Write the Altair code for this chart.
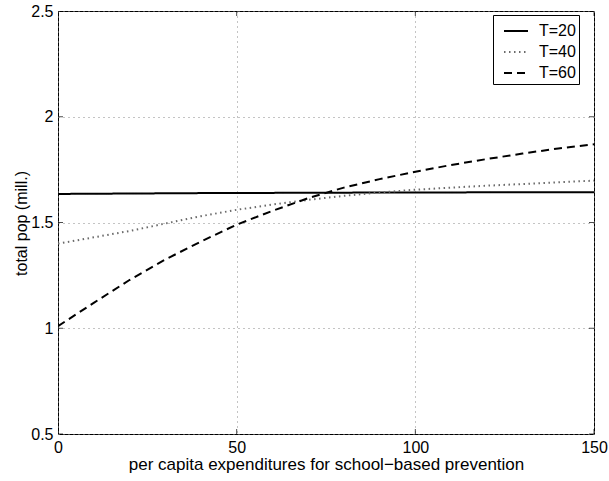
import altair as alt
import pandas as pd

# per capita expenditures (x) and total population in millions for each horizon T
spend = [0, 10, 20, 30, 40, 50, 60, 70, 80, 90, 100, 110, 120, 130, 140, 150]
pop_t20 = [1.635, 1.636, 1.637, 1.638, 1.639, 1.640, 1.640, 1.641, 1.641, 1.642,
           1.642, 1.642, 1.643, 1.643, 1.643, 1.643]
pop_t40 = [1.400, 1.430, 1.460, 1.495, 1.530, 1.560, 1.585, 1.607, 1.626, 1.642,
           1.655, 1.665, 1.674, 1.682, 1.690, 1.698]
pop_t60 = [1.010, 1.120, 1.228, 1.325, 1.410, 1.490, 1.555, 1.615, 1.665, 1.705,
           1.740, 1.772, 1.800, 1.826, 1.850, 1.870]
series = ["T=20", "T=40", "T=60"]

x_ticks = [0, 50, 100, 150]
y_ticks = [0.5, 1.0, 1.5, 2.0, 2.5]

rows = []
for name, vals in zip(series, [pop_t20, pop_t40, pop_t60]):
    for xv, yv in zip(spend, vals):
        rows.append({"x": xv, "y": yv, "T": name})
df = pd.DataFrame(rows)

FONT = "Liberation Sans"
FS = 16

x_scale = alt.Scale(domain=[0, 150], nice=False, zero=False)
y_scale = alt.Scale(domain=[0.5, 2.5], nice=False, zero=False)

legend = alt.Legend(title=None, labelExpr="datum.label + '    '")

lines = alt.Chart(df).mark_line(clip=True).encode(
    x=alt.X("x:Q", scale=x_scale,
            axis=alt.Axis(values=x_ticks, title="per capita expenditures for school−based prevention",
                          grid=True, gridDash=[1, 4], gridColor="#888", gridWidth=1,
                          domain=False, ticks=False, labelPadding=5, labelFontSize=FS,
                          titleFontSize=17, titleFontWeight="normal", titlePadding=1,
                          labelColor="black", titleColor="black", labelFont=FONT, titleFont=FONT,
                          labelFlush=False)),
    y=alt.Y("y:Q", scale=y_scale,
            axis=alt.Axis(values=y_ticks, title="total pop (mill.)", format="~g",
                          grid=True, gridDash=[1, 4], gridColor="#888", gridWidth=1,
                          domain=False, ticks=False, labelPadding=5, labelFontSize=FS,
                          titleFontSize=FS, titleFontWeight="normal",
                          titleX=-37, titleY=212, titleBaseline="middle", titleAlign="center",
                          labelColor="black", titleColor="black", labelFont=FONT, titleFont=FONT,
                          labelFlush=False)),
    color=alt.Color("T:N", scale=alt.Scale(domain=series, range=["black", "#6a6a6a", "black"]),
                    legend=legend),
    strokeDash=alt.StrokeDash("T:N", scale=alt.Scale(domain=series, range=[[1, 0], [1.5, 3.5], [8, 5]]),
                              legend=legend),
    strokeWidth=alt.value(2),
    order=alt.Order("x:Q"),
)

tick_df_x = pd.DataFrame({"x": x_ticks})
tick_df_y = pd.DataFrame({"y": y_ticks})

# inward tick marks on all four sides of the box
bottom_ticks = alt.Chart(tick_df_x).mark_tick(clip=True, size=10, thickness=1, color="black",
                                              orient="vertical").encode(
    x=alt.X("x:Q", scale=x_scale), y=alt.datum(0.5, scale=y_scale))
top_ticks = alt.Chart(tick_df_x).mark_tick(clip=True, size=10, thickness=1, color="black",
                                           orient="vertical").encode(
    x=alt.X("x:Q", scale=x_scale), y=alt.datum(2.5, scale=y_scale))
left_ticks = alt.Chart(tick_df_y).mark_tick(clip=True, size=10, thickness=1, color="black",
                                            orient="horizontal").encode(
    y=alt.Y("y:Q", scale=y_scale), x=alt.datum(0, scale=x_scale))
right_ticks = alt.Chart(tick_df_y).mark_tick(clip=True, size=10, thickness=1, color="black",
                                             orient="horizontal").encode(
    y=alt.Y("y:Q", scale=y_scale), x=alt.datum(150, scale=x_scale))

chart = alt.layer(lines, bottom_ticks, top_ticks, left_ticks, right_ticks).properties(
    width=536, height=423,
    padding={"left": 58, "top": 11, "right": 15, "bottom": 47},
    autosize=alt.AutoSizeParams(type="none"),
    background="white",
).configure_view(
    stroke="black", strokeWidth=1, fill="white"
).configure_legend(
    orient="none", legendX=435, legendY=4,
    strokeColor="black", fillColor="white", padding=3,
    symbolType="stroke", symbolSize=576, symbolStrokeWidth=2, symbolOffset=7,
    labelFontSize=FS, labelFont=FONT, labelColor="black", labelOffset=10,
    rowPadding=-2, cornerRadius=0,
)

chart.save("out.html", embed_options={"renderer": "svg", "actions": False})
